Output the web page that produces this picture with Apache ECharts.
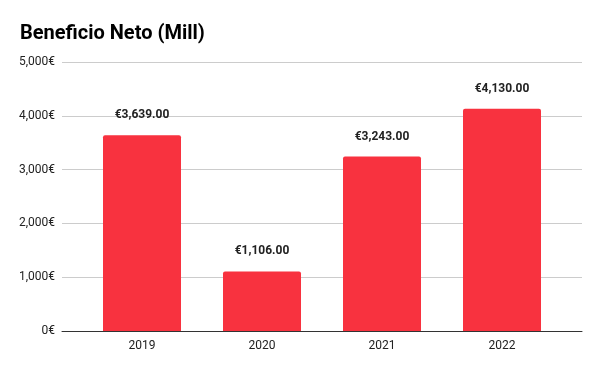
<!DOCTYPE html>
<html>
<head>
<meta charset="utf-8">
<script src="https://cdn.jsdelivr.net/npm/echarts@6/dist/echarts.min.js"></script>
<style>html,body{margin:0;padding:0;background:#fff}#c{width:600px;height:371px}</style>
</head>
<body>
<div id="c"></div>
<script>
var categories = ['2019', '2020', '2021', '2022'];
var values = [3639, 1106, 3243, 4130];
var yTicks = [0, 1000, 2000, 3000, 4000, 5000];

function fmtAxis(v) { return v.toLocaleString('en-US') + '€'; }
function fmtLabel(v) { return '€' + v.toLocaleString('en-US', {minimumFractionDigits: 2, maximumFractionDigits: 2}); }

var chart = echarts.init(document.getElementById('c'), null, {renderer: 'canvas'});
chart.setOption({
  animation: false,
  textStyle: {fontFamily: 'Roboto'},
  title: {
    text: 'Beneficio Neto (Mill)', left: 15, top: 19,
    textStyle: {fontFamily: 'Roboto', fontSize: 20, fontWeight: 'bold', color: '#000'}
  },
  grid: [
    {left: 62, right: 18, top: 62, bottom: 40},
    {left: 82, width: 480, top: 62, bottom: 40}
  ],
  xAxis: [
    {gridIndex: 0, type: 'category', data: [''], axisLine: {show: true, lineStyle: {color: '#333', width: 1}},
     axisTick: {show: false}, axisLabel: {show: false}},
    {gridIndex: 1, type: 'category', data: categories, axisLine: {show: false}, axisTick: {show: false},
     axisLabel: {color: '#222', fontSize: 12, margin: 9, fontFamily: 'Roboto'}}
  ],
  yAxis: [
    {gridIndex: 0, type: 'value', min: yTicks[0], max: yTicks[yTicks.length - 1], interval: 1000,
     axisLine: {show: false}, axisTick: {show: false},
     splitLine: {lineStyle: {color: '#cccccc', width: 1}},
     axisLabel: {formatter: fmtAxis, color: '#222', fontSize: 12, margin: 7, fontFamily: 'Roboto'}},
    {gridIndex: 1, type: 'value', min: yTicks[0], max: yTicks[yTicks.length - 1], interval: 1000,
     show: false, splitLine: {show: false}}
  ],
  series: [{
    type: 'bar', xAxisIndex: 1, yAxisIndex: 1, data: values, barWidth: 78,
    itemStyle: {color: '#F8323F', borderRadius: [2, 2, 0, 0]},
    label: {show: true, position: 'top', distance: 14, formatter: function (p) { return fmtLabel(p.value); },
      color: '#222', fontWeight: 'bold', fontSize: 12, fontFamily: 'Roboto'}
  }]
});
</script>
</body>
</html>
